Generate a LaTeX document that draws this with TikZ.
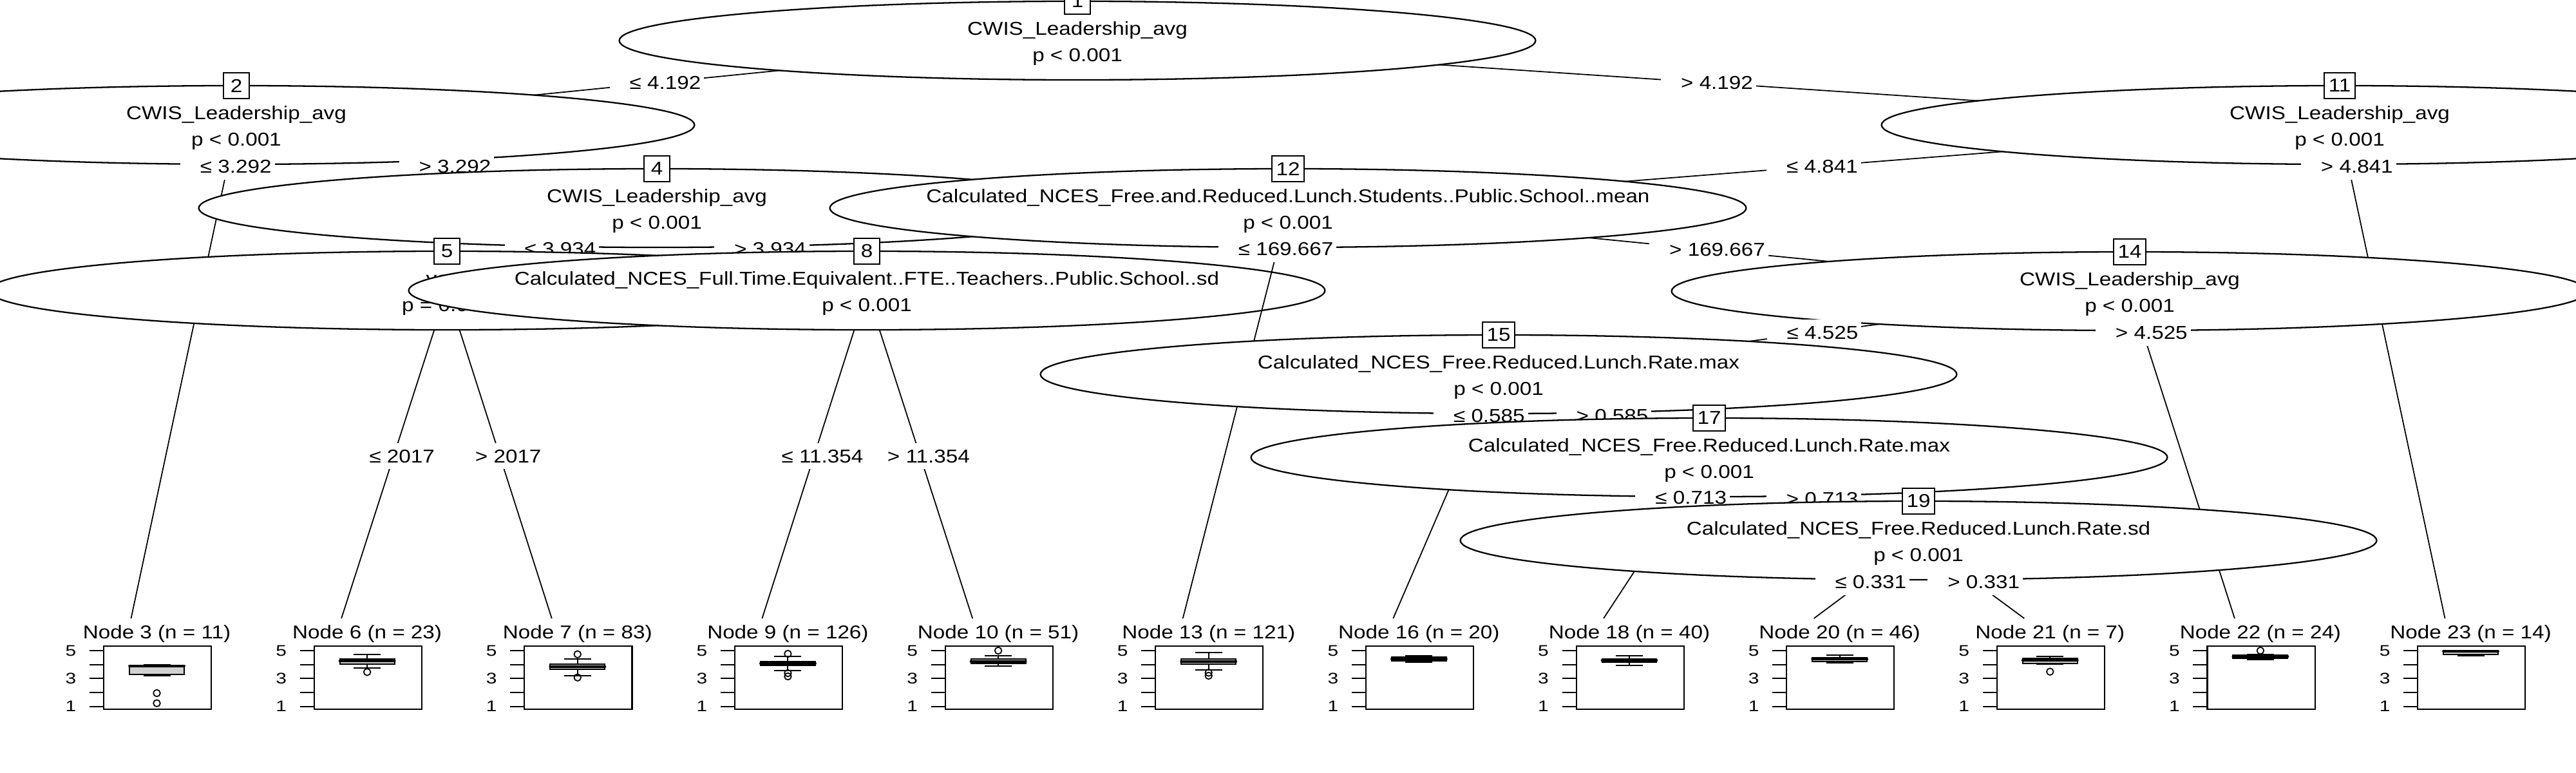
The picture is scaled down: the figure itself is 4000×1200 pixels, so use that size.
\documentclass[tikz,border=0pt]{standalone}
\usepackage{fontspec}
\setmainfont{Liberation Sans}
\usepackage{graphicx}
\usetikzlibrary{shapes.geometric}
\newcommand{\vs}[1]{\scalebox{1}[0.87]{#1}}
\newcommand{\vt}[1]{\scalebox{1}[0.8]{#1}}
\newcommand{\el}[1]{\hspace*{0.26cm}\vs{#1}}
\newcommand{\mainfs}{\fontsize{9.45pt}{11pt}\selectfont}
\tikzset{
  ell/.style={ellipse, draw, fill=white, line width=0.65pt, minimum width=14.22cm, minimum height=1.22cm, inner sep=0pt},
  itext/.style={inner sep=0pt, font=\mainfs},
  nbox/.style={draw, fill=white, line width=0.6pt, minimum width=0.40cm, minimum height=0.40cm, inner xsep=0.065cm, inner ysep=0pt, font=\mainfs},
  edgeline/.style={line width=0.5pt},
  elab/.style={fill=white, inner xsep=0.05cm, inner ysep=0pt, minimum height=0.40cm, font=\mainfs},
  tlab/.style={inner sep=0pt, font=\mainfs},
  pbox/.style={draw, line width=0.6pt, minimum width=1.67cm, minimum height=0.98cm, inner sep=0pt},
  tickline/.style={line width=0.55pt},
  ticklab/.style={inner sep=0pt, font=\fontsize{8.5pt}{10pt}\selectfont},
  whisk/.style={line width=0.55pt},
  bx/.style={draw, fill=black!18, line width=0.55pt},
  medline/.style={line width=1.1pt, line cap=round},
  outc/.style={line width=0.5pt}
}
\newcommand{\inode}[5]{%
  \node[ell] (n#1) at (c#1) {};
  \node[itext, anchor=base] (v#1) at (#2,#3-8.5) {\vs{#4}};
  \node[itext, anchor=base] (p#1) at (#2,#3+32) {\vs{#5}};
  \node[nbox] (b#1) at (#2,#3-61) {\vs{#1}};
}
\newcommand{\tpanel}[8]{%
  \pgfmathsetmacro{\tpL}{160+326.64*#1}%
  \pgfmathsetmacro{\tpC}{\tpL+83.5}%
  \node[tlab, anchor=base] (lab#2) at (\tpC,991.7) {\vs{Node #2 (n = #3)}};
  \node[pbox, anchor=north west] (box#2) at (\tpL,1002) {};
  \foreach \v in {1,...,5} {\draw[tickline] (\tpL,{1096.7-(\v-1)*21.67}) -- ++(-21,0);}
  \foreach \v in {1,3,5} {\node[ticklab, anchor=east] (tk#2v\v) at (\tpL-41,{1096.7-(\v-1)*21.67}) {\vt{\v}};}
  \draw[whisk] (\tpC,#4) -- (\tpC,#7) (\tpC-21,#7) -- (\tpC+21,#7);
  \draw[whisk] (\tpC,#5) -- (\tpC,#8) (\tpC-21,#8) -- (\tpC+21,#8);
  \draw[bx] (\tpC-42.5,#4) rectangle (\tpC+42.5,#5);
  \draw[medline] (\tpC-42.5,#6) -- (\tpC+42.5,#6);
}
\newcommand{\outl}[2]{%
  \pgfmathsetmacro{\tpO}{243.5+326.64*#1}%
  \draw[outc] (\tpO,#2) circle[radius=0.053cm];
}
\begin{document}
\begin{tikzpicture}[x=0.01cm, y=-0.01cm]
\fill[white] (0,0) rectangle (4000,1200);
\useasboundingbox (0,0) rectangle (4000,1200);
\clip (0,0) rectangle (4000,1200);
% inner node centres
\coordinate (c1) at (1673,63);
\coordinate (c2) at (367,194);
\coordinate (c4) at (1020,323);
\coordinate (c5) at (694,451);
\coordinate (c8) at (1346,451);
\coordinate (c11) at (3633,194);
\coordinate (c12) at (2000,323);
\coordinate (c14) at (3307,452);
\coordinate (c15) at (2327,581);
\coordinate (c17) at (2654,710);
\coordinate (c19) at (2979,839);
% terminal entry points
\coordinate (t3) at (203.5,960);
\coordinate (t6) at (530.1,960);
\coordinate (t7) at (856.8,960);
\coordinate (t9) at (1183.4,960);
\coordinate (t10) at (1510.1,960);
\coordinate (t13) at (1836.7,960);
\coordinate (t16) at (2163.3,960);
\coordinate (t18) at (2490,960);
\coordinate (t20) at (2816.6,960);
\coordinate (t21) at (3143.3,960);
\coordinate (t22) at (3469.9,960);
\coordinate (t23) at (3796.5,960);

% node 1
\draw[edgeline] (c1) -- (c2);
\draw[edgeline] (c1) -- (c11);
\inode{1}{1673}{63}{CWIS\_Leadership\_avg}{p < 0.001}
\path (c1) -- (c2) node[elab, pos=0.5] (e1a) {\el{≤ 4.192}};
\path (c1) -- (c11) node[elab, pos=0.5] (e1b) {\el{> 4.192}};
% node 2
\draw[edgeline] (c2) -- (t3);
\draw[edgeline] (c2) -- (c4);
\inode{2}{367}{194}{CWIS\_Leadership\_avg}{p < 0.001}
\path (c2) -- (t3) node[elab, pos=0.0842] (e2a) {\el{≤ 3.292}};
\path (c2) -- (c4) node[elab, pos=0.5] (e2b) {\el{> 3.292}};
\tpanel{0}{3}{11}{1033.3}{1047.3}{1034}{1031.7}{1049.3}
\outl{0}{1076}\outl{0}{1091.7}
% node 4
\draw[edgeline] (c4) -- (c5);
\draw[edgeline] (c4) -- (c8);
\inode{4}{1020}{323}{CWIS\_Leadership\_avg}{p < 0.001}
\path (c4) -- (c5) node[elab, pos=0.5] (e4a) {\el{≤ 3.934}};
\path (c4) -- (c8) node[elab, pos=0.5] (e4b) {\el{> 3.934}};
% node 5
\draw[edgeline] (c5) -- (t6);
\draw[edgeline] (c5) -- (t7);
\inode{5}{694}{451}{year}{p = 0.005}
\path (c5) -- (t6) node[elab, pos=0.505] (e5a) {\el{≤ 2017}};
\path (c5) -- (t7) node[elab, pos=0.505] (e5b) {\el{> 2017}};
\tpanel{1}{6}{23}{1022.7}{1030.7}{1026}{1015.7}{1037.3}
\outl{1}{1043.3}
\tpanel{2}{7}{83}{1030.7}{1039}{1035}{1023.3}{1048.7}
\outl{2}{1015.7}\outl{2}{1051.7}
% node 8
\draw[edgeline] (c8) -- (t9);
\draw[edgeline] (c8) -- (t10);
\inode{8}{1346}{451}{Calculated\_NCES\_Full.Time.Equivalent..FTE..Teachers..Public.School..sd}{p < 0.001}
\path (c8) -- (t9) node[elab, pos=0.505] (e8a) {\el{≤ 11.354}};
\path (c8) -- (t10) node[elab, pos=0.505] (e8b) {\el{> 11.354}};
\tpanel{3}{9}{126}{1026.7}{1033.3}{1030}{1019}{1040.7}
\outl{3}{1015}\outl{3}{1045}\outl{3}{1050}
\tpanel{4}{10}{51}{1023.3}{1030}{1026.7}{1017.7}{1034.3}
\outl{4}{1010}
% node 11
\draw[edgeline] (c11) -- (c12);
\draw[edgeline] (c11) -- (t23);
\inode{11}{3633}{194}{CWIS\_Leadership\_avg}{p < 0.001}
\path (c11) -- (c12) node[elab, pos=0.5] (e11a) {\el{≤ 4.841}};
\path (c11) -- (t23) node[elab, pos=0.0842] (e11b) {\el{> 4.841}};
% node 12
\draw[edgeline] (c12) -- (t13);
\draw[edgeline] (c12) -- (c14);
\inode{12}{2000}{323}{Calculated\_NCES\_Free.and.Reduced.Lunch.Students..Public.School..mean}{p < 0.001}
\path (c12) -- (t13) node[elab, pos=0.1005] (e12a) {\el{≤ 169.667}};
\path (c12) -- (c14) node[elab, pos=0.5] (e12b) {\el{> 169.667}};
\tpanel{5}{13}{121}{1023.3}{1030.7}{1026.7}{1013.3}{1040}
\outl{5}{1044.3}\outl{5}{1049}
% node 14
\draw[edgeline] (c14) -- (c15);
\draw[edgeline] (c14) -- (t22);
\inode{14}{3307}{452}{CWIS\_Leadership\_avg}{p < 0.001}
\path (c14) -- (c15) node[elab, pos=0.5] (e14a) {\el{≤ 4.525}};
\path (c14) -- (t22) node[elab, pos=0.1277] (e14b) {\el{> 4.525}};
% node 15
\draw[edgeline] (c15) -- (t16);
\draw[edgeline] (c15) -- (c17);
\inode{15}{2327}{581}{Calculated\_NCES\_Free.Reduced.Lunch.Rate.max}{p < 0.001}
\path (c15) -- (t16) node[elab, pos=0.169] (e15a) {\el{≤ 0.585}};
\path (c15) -- (c17) node[elab, pos=0.5] (e15b) {\el{> 0.585}};
\tpanel{6}{16}{20}{1020}{1026}{1022.7}{1018.3}{1028.3}
% node 17
\draw[edgeline] (c17) -- (t18);
\draw[edgeline] (c17) -- (c19);
\inode{17}{2654}{710}{Calculated\_NCES\_Free.Reduced.Lunch.Rate.max}{p < 0.001}
\path (c17) -- (t18) node[elab, pos=0.252] (e17a) {\el{≤ 0.713}};
\path (c17) -- (c19) node[elab, pos=0.5] (e17b) {\el{> 0.713}};
\tpanel{7}{18}{40}{1022.7}{1027.7}{1025.3}{1017.7}{1032.7}
% node 19
\draw[edgeline] (c19) -- (t20);
\draw[edgeline] (c19) -- (t21);
\inode{19}{2979}{839}{Calculated\_NCES\_Free.Reduced.Lunch.Rate.sd}{p < 0.001}
\path (c19) -- (t20) node[elab, pos=0.537] (e19a) {\el{≤ 0.331}};
\path (c19) -- (t21) node[elab, pos=0.537] (e19b) {\el{> 0.331}};
\tpanel{8}{20}{46}{1020.7}{1026.7}{1023.3}{1016.7}{1029.3}
\tpanel{9}{21}{7}{1021.7}{1030}{1025}{1019}{1030.7}
\outl{9}{1042.7}
\tpanel{10}{22}{24}{1016.7}{1021.7}{1019.3}{1015.7}{1024}
\outl{10}{1010}
\tpanel{11}{23}{14}{1010}{1016}{1011}{1010}{1018.3}
\end{tikzpicture}
\end{document}
